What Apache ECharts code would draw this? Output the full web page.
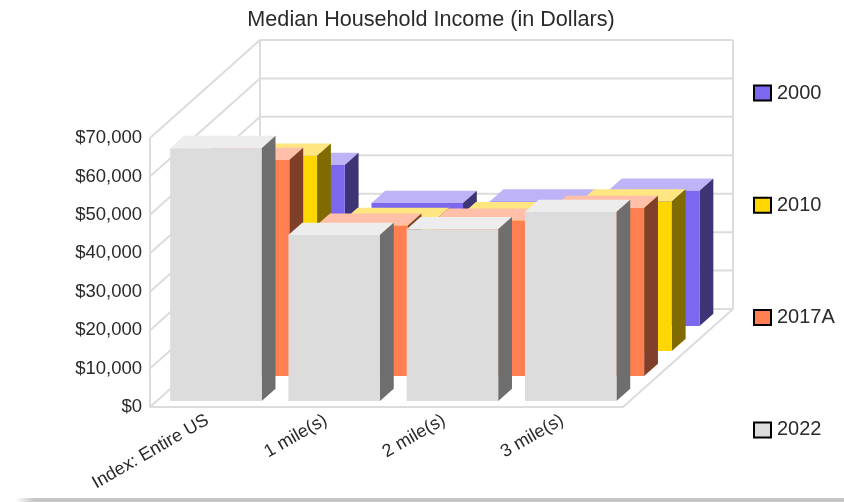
<!DOCTYPE html>
<html>
<head>
<meta charset="utf-8">
<style>
  html, body { margin: 0; padding: 0; background: #fff; }
  #chart { width: 844px; height: 502px; }
</style>
<script src="https://cdn.jsdelivr.net/npm/echarts@6/dist/echarts.min.js"></script>
</head>
<body>
<div id="chart"></div>
<script>
const categories = ['Index: Entire US', '1 mile(s)', '2 mile(s)', '3 mile(s)']
const values2000 = [41900, 32000, 32400, 35200]
const values2010 = [50800, 34100, 35600, 38900]
const values2017A = [56200, 39100, 40400, 43700]
const values2022 = [65800, 43200, 44700, 49200]
const yTicks = [0, 10000, 20000, 30000, 40000, 50000, 60000, 70000]

// fake 3d: everything is pushed back up and to the right from the front plane (the grid)
const wallDepth = [110, -98]
const rowStep = [27.7, -25]
const rowStart = [6.8, -6]
const barDepth = [13.8, -12.3]
const barRatio = 0.774

const wallColor = '#dcdcdc'
const textColor = '#2a2a2a'

const makeBarSeries = (name, values, row, front, top, side) => ({
  type: 'custom',
  name,
  data: values.map((v, i) => [i, v]),
  itemStyle: { color: front },
  encode: { x: 0, y: 1 },
  renderItem: (params, api) => {
    const base = api.coord([api.value(0), 0])
    const head = api.coord([api.value(0), api.value(1)])
    const w = api.size([1, 0])[0] * barRatio
    const ox = rowStart[0] + rowStep[0] * row
    const oy = rowStart[1] + rowStep[1] * row
    const x0 = base[0] - w / 2 + ox
    const x1 = x0 + w
    const y0 = base[1] + oy
    const y1 = head[1] + oy
    const [dx, dy] = barDepth
    return {
      type: 'group',
      children: [
        { type: 'polygon', shape: { points: [[x0, y1], [x1, y1], [x1 + dx, y1 + dy], [x0 + dx, y1 + dy]] }, style: { fill: top } },
        { type: 'polygon', shape: { points: [[x1, y0], [x1 + dx, y0 + dy], [x1 + dx, y1 + dy], [x1, y1]] }, style: { fill: side } },
        { type: 'rect', shape: { x: x0, y: y1, width: w, height: y0 - y1 }, style: { fill: front } },
      ],
    }
  },
})

const wallSeries = {
  type: 'custom',
  name: 'walls',
  silent: true,
  data: yTicks.map((v) => [0, v]),
  encode: { y: 1 },
  renderItem: (params, api) => {
    const { x, width } = params.coordSys
    const y = api.coord([0, api.value(1)])[1]
    const [dx, dy] = wallDepth
    const line = { stroke: wallColor, lineWidth: 2, fill: 'none' }
    const children = [
      { type: 'polyline', shape: { points: [[x, y], [x + dx, y + dy], [x + width + dx, y + dy]] }, style: line },
    ]
    if (api.value(1) === 0) {
      const topY = api.coord([0, yTicks[yTicks.length - 1]])[1]
      children.push(
        { type: 'polyline', shape: { points: [[x, topY], [x, y], [x + width, y], [x + width + dx, y + dy]] }, style: line },
        { type: 'line', shape: { x1: x + dx, y1: topY + dy, x2: x + dx, y2: y + dy }, style: line },
        { type: 'line', shape: { x1: x + width + dx, y1: topY + dy, x2: x + width + dx, y2: y + dy }, style: line },
      )
    }
    return { type: 'group', children }
  },
}

const chart = echarts.init(document.getElementById('chart'), null, { renderer: 'canvas' })
chart.setOption({
  animation: false,
  backgroundColor: '#fff',
  textStyle: { fontFamily: 'Liberation Sans' },
  title: {
    text: 'Median Household Income (in Dollars)',
    left: 426,
    top: 4,
    textAlign: 'center',
    textStyle: { fontFamily: 'Liberation Sans', fontSize: 21.6, fontWeight: 'normal', color: textColor },
  },
  legend: {
    data: ['2000', '2010', '2017A', '2022'],
    orient: 'vertical',
    left: 748,
    top: 78,
    itemWidth: 17,
    itemHeight: 15,
    itemGap: 92.3,
    icon: 'rect',
    selectedMode: false,
    itemStyle: { borderColor: '#000', borderWidth: 2 },
    textStyle: { fontFamily: 'Liberation Sans', fontSize: 20, color: textColor, padding: [0, 0, 0, 1] },
  },
  grid: { left: 150, top: 138, width: 473, height: 269 },
  xAxis: {
    type: 'category',
    data: categories,
    axisLine: { show: false },
    axisTick: { show: false },
    axisLabel: { rotate: 30, margin: 11, padding: [0, 2, 0, 0], interval: 0, fontFamily: 'Liberation Sans', fontSize: 18, color: textColor },
  },
  yAxis: {
    type: 'value',
    min: 0,
    max: 70000,
    interval: 10000,
    axisLine: { show: false },
    axisTick: { show: false },
    splitLine: { show: false },
    axisLabel: {
      margin: 8,
      fontFamily: 'Liberation Sans',
      fontSize: 18.5,
      color: textColor,
      formatter: (v) => '$' + v.toLocaleString('en-US'),
    },
  },
  graphic: [
    {
      type: 'rect',
      shape: { x: 0, y: 498, width: 844, height: 4 },
      style: {
        fill: {
          type: 'linear', x: 0, y: 0, x2: 1, y2: 0,
          colorStops: [{ offset: 0, color: '#ffffff' }, { offset: 0.018, color: '#ffffff' }, { offset: 0.04, color: '#c6c6c6' }, { offset: 1, color: '#c6c6c6' }],
        },
      },
    },
  ],
  series: [
    wallSeries,
    makeBarSeries('2000', values2000, 3, '#7b68ee', '#bdb3f6', '#3d3475'),
    makeBarSeries('2010', values2010, 2, '#ffd700', '#ffe680', '#7f6b00'),
    makeBarSeries('2017A', values2017A, 1, '#ff7f50', '#ffbfa8', '#7f3f28'),
    makeBarSeries('2022', values2022, 0, '#dcdcdc', '#ededed', '#6e6e6e'),
  ],
})
</script>
</body>
</html>
